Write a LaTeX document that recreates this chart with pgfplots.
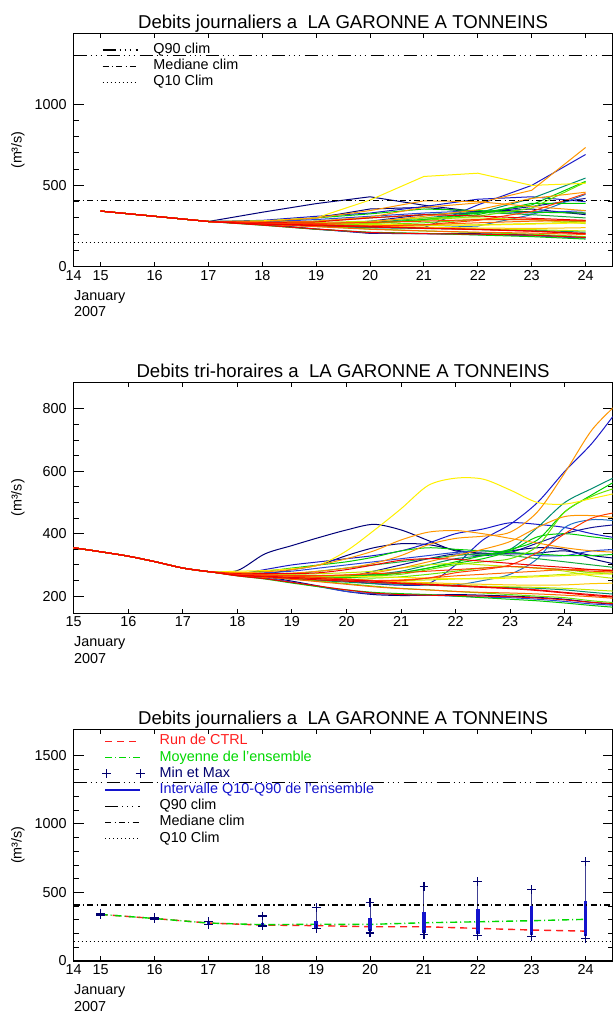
\documentclass[border=0pt]{standalone}
\usepackage{pgfplots}
\pgfplotsset{compat=1.18}
\usepackage{pgfplotstable}
\usepackage{fontspec}
\setmainfont{Liberation Sans}

\definecolor{c1}{RGB}{0,0,120}
\definecolor{c2}{RGB}{20,20,150}
\definecolor{c3}{RGB}{25,25,200}
\definecolor{c4}{RGB}{40,70,215}
\definecolor{c5}{RGB}{30,110,200}
\definecolor{c6}{RGB}{0,140,110}
\definecolor{c7}{RGB}{20,170,60}
\definecolor{c8}{RGB}{0,205,0}
\definecolor{c9}{RGB}{100,230,0}
\definecolor{c10}{RGB}{190,235,0}
\definecolor{c11}{RGB}{255,240,0}
\definecolor{c12}{RGB}{255,200,0}
\definecolor{c13}{RGB}{255,150,0}
\definecolor{c14}{RGB}{255,105,0}
\definecolor{c15}{RGB}{255,60,0}
\definecolor{c16}{RGB}{240,0,0}
\colorlet{col1}{c1}\colorlet{col2}{c1}\colorlet{col3}{c2}\colorlet{col4}{c1}
\colorlet{col5}{c3}\colorlet{col6}{c3}\colorlet{col7}{c5}\colorlet{col8}{c4}
\colorlet{col9}{c4}\colorlet{col10}{c6}\colorlet{col11}{c6}\colorlet{col12}{c7}
\colorlet{col13}{c8}\colorlet{col14}{c8}\colorlet{col15}{c8}\colorlet{col16}{c9}
\colorlet{col17}{c8}\colorlet{col18}{c9}\colorlet{col19}{c9}\colorlet{col20}{c10}
\colorlet{col21}{c10}\colorlet{col22}{c10}\colorlet{col23}{c11}\colorlet{col24}{c11}
\colorlet{col25}{c12}\colorlet{col26}{c13}\colorlet{col27}{c13}\colorlet{col28}{c13}
\colorlet{col29}{c14}\colorlet{col30}{c14}\colorlet{col31}{c15}\colorlet{col32}{c16}
\colorlet{col33}{c16}\colorlet{col34}{c16}\colorlet{col35}{c15}\colorlet{col36}{c16}
\definecolor{ctrlred}{RGB}{255,30,30}
\definecolor{meangreen}{RGB}{0,215,0}
\definecolor{mmnavy}{RGB}{0,0,110}
\definecolor{qblue}{RGB}{20,20,205}

\newcommand\tfont{\fontsize{7.2pt}{8.6pt}\selectfont}
\newcommand\ttlfont{\fontsize{9.3pt}{11pt}\selectfont}

% ensemble, one row per member (tri-hourly curve sampled every 12 h)
\pgfplotstableread{
name t0 t1 t2 t3 t4 t5 t6 t7 t8 t9 t10 t11 t12 t13 t14 t15 t16 t17 t18 t19 t20
x 15 15.5 16 16.5 17 17.5 18 18.5 19 19.5 20 20.5 21 21.5 22 22.5 23 23.5 24 24.5 25
m1 355 342 328 310 290 278 282 335 362 388 412 430 412 378 345 338 335 338 345 330 320
m2 355 342 328 310 290 278 270 262 248 232 215 205 202 203 205 203 200 196 190 180 172
m3 355 342 328 310 290 278 272 268 262 258 262 280 300 320 335 330 340 370 400 420 430
m4 355 342 328 310 290 278 275 272 285 300 330 355 368 365 348 335 345 355 350 320 300
m5 355 342 328 310 290 278 268 262 255 250 248 240 235 240 300 380 430 500 600 690 803
m6 355 342 328 310 290 278 270 285 300 310 320 330 345 370 400 415 435 430 420 400 385
m7 355 342 328 310 290 278 268 265 260 255 250 245 240 238 236 250 270 320 420 445 440
m8 355 342 328 310 290 278 266 258 245 230 215 208 205 203 200 197 195 190 183 175 170
m9 355 342 328 310 290 278 272 275 280 290 300 310 320 330 340 345 340 330 330 345 350
m10 355 342 328 310 290 278 270 270 268 266 265 270 280 300 320 330 350 420 500 545 588
m11 355 342 328 310 290 278 268 262 255 250 245 240 238 235 232 230 228 225 220 212 205
m12 355 342 328 310 290 278 272 270 272 280 290 300 310 320 330 335 330 320 310 300 290
m13 355 342 328 310 290 278 270 268 266 265 265 268 275 290 310 330 350 380 470 525 575
m14 355 342 328 310 290 278 265 255 242 230 220 212 208 205 200 195 190 185 178 170 163
m15 355 342 328 310 290 278 275 280 290 300 310 325 345 355 350 345 340 335 330 330 335
m16 355 342 328 310 290 278 270 268 265 262 260 258 262 270 280 290 295 290 285 275 270
m17 355 342 328 310 290 278 268 265 262 260 260 265 275 290 305 320 345 390 400 390 380
m18 355 342 328 310 290 278 268 262 255 248 240 232 225 220 215 210 205 200 195 185 178
m19 355 342 328 310 290 278 270 268 265 262 262 265 270 285 300 310 320 360 470 520 550
m20 355 342 328 310 290 278 272 270 270 272 275 280 290 300 305 300 295 290 280 265 255
m21 355 342 328 310 290 278 266 262 258 255 252 250 250 252 255 258 262 265 270 275 280
m22 355 342 328 310 290 278 268 266 262 258 255 250 245 240 235 232 230 228 225 220 215
m23 355 342 328 310 290 278 280 282 288 300 345 410 480 555 578 575 540 500 495 513 532
m24 355 342 328 310 290 278 270 268 266 265 264 262 260 258 256 255 258 262 266 270 272
m25 355 342 328 310 290 278 268 265 262 258 255 250 246 243 240 238 236 235 236 240 242
m26 355 342 328 310 290 278 272 272 274 280 290 305 330 365 385 392 405 470 595 733 822
m27 355 342 328 310 290 278 275 278 285 300 320 345 380 405 410 400 385 370 355 345 340
m28 355 342 328 310 290 278 270 268 266 265 268 275 290 310 330 350 375 420 455 458 450
m29 355 342 328 310 290 278 268 264 260 256 252 250 252 258 265 270 275 280 285 285 283
m30 355 342 328 310 290 278 266 260 254 246 238 230 224 220 215 212 210 207 203 198 192
m31 355 342 328 310 290 278 270 268 264 260 255 250 250 258 275 285 300 340 400 450 470
m32 355 342 328 310 290 278 272 272 272 275 285 300 315 320 318 312 305 298 292 285 280
m33 355 342 328 310 290 278 265 256 244 232 220 210 205 203 202 200 198 194 188 180 175
m34 355 342 328 310 290 278 268 264 260 256 252 248 242 238 234 230 225 220 212 205 198
m35 355 342 328 310 290 278 270 268 266 266 268 272 275 280 285 290 295 290 285 280 276
m36 355 342 328 310 290 278 267 262 257 252 248 244 240 236 232 228 224 218 210 202 196
}\rawtab
\pgfplotstabletranspose[colnames from=name]\enstab\rawtab

\pgfplotstableread{
x ctrl mean
15 340 340
16 310 310
17 277 277
18 262 265
19 258 268
20 250 267
21 250 279
22 238 286
23 226 294
24 218 304
}\stattab

\pgfplotstableread{
x y
15 336
15 348
nan nan
16 306
16 316
nan nan
17 268
17 288
nan nan
18 255
18 328
nan nan
19 235
19 388
nan nan
20 205
20 426
nan nan
21 196
21 546
nan nan
22 184
22 578
nan nan
23 176
23 522
nan nan
24 162
24 723
}\mmtab

\pgfplotstableread{
x y
15 339
15 343
nan nan
16 309
16 312
nan nan
17 273
17 282
nan nan
18 258
18 280
nan nan
19 242
19 290
nan nan
20 222
20 313
nan nan
21 205
21 357
nan nan
22 200
22 376
nan nan
23 190
23 400
nan nan
24 182
24 437
}\qtab

\pgfplotsset{
  idl/.style={
    scale only axis, width=269.4pt,
    axis line style={line width=0.6pt},
    tick align=inside, xtick pos=both, ytick pos=both,
    xtick style={/pgfplots/major tick length=2.3pt, line width=0.5pt, black},
    ytick style={/pgfplots/major tick length=5pt, /pgfplots/minor tick length=2.5pt, line width=0.5pt, black},
    tick label style={font=\tfont},
    xticklabel style={yshift=1.8pt},
    /pgf/number format/assume math mode=true,
    /pgf/number format/1000 sep={},
    title style={font=\ttlfont, at={(0.5,1)}, anchor=base, yshift=-3.5pt},
    legend cell align=left,
    legend style={at={(rel axis cs:0,1)}, anchor=north west, xshift=14pt, yshift=-4.6pt,
      draw=none, fill=none, font=\tfont, row sep=1.4pt, inner sep=0pt,
      nodes={inner sep=0pt, text height=5.1pt, text depth=1.6pt},
      /tikz/every odd column/.append style={column sep=7.6pt}},
    legend image code/.code={\draw[##1] (0pt,0pt) -- (17.5pt,0pt);},
  },
  mmlegend/.style={legend image code/.code={\draw[##1] plot[only marks] coordinates {(0.6pt,0pt) (17.4pt,0pt)};}},
  qlegend/.style={legend image code/.code={\draw[##1, line width=0.8pt] (0pt,0pt) -- (17.5pt,0pt);}},
  q90/.style={black, line width=0.6pt, dash pattern=on 6.5pt off 2pt on 0.5pt off 2pt on 0.5pt off 2pt on 0.5pt off 2.5pt},
  med/.style={black, line width=0.6pt, dash pattern=on 3pt off 1.6pt on 0.6pt off 1.6pt},
  q10/.style={black, line width=0.6pt, dash pattern=on 0.5pt off 1.5pt},
}

\begin{document}
\begin{tikzpicture}
\path[use as bounding box] (0pt,0pt) rectangle (306.5pt,-506pt);

% ---------- panel 1 ----------
\begin{axis}[idl, name=p1, at={(36.85pt,-133.35pt)}, anchor=south west, height=116.5pt,
  xmin=14.5, xmax=24.5, ymin=0, ymax=1433,
  xtick={14.5,15,16,17,18,19,20,21,22,23,24},
  xticklabels={14,15,16,17,18,19,20,21,22,23,24},
  ytick={0,500,1000}, minor y tick num=4,
  title={Debits journaliers a~~LA GARONNE A TONNEINS}]
\pgfplotsinvokeforeach{1,...,36}{
  \addplot[col#1, line width=0.5pt, forget plot]
    table[x expr={mod(\coordindex,2)==1 ? \thisrow{x}-0.5 : nan}, y=m#1]{\enstab};
}
\addplot[q90] coordinates {(14.5,1300) (24.5,1300)};
\addlegendentry{Q90 clim}
\addplot[med] coordinates {(14.5,408) (24.5,408)};
\addlegendentry{Mediane clim}
\addplot[q10] coordinates {(14.5,148) (24.5,148)};
\addlegendentry{Q10 Clim}
\end{axis}

% ---------- panel 2 ----------
\begin{axis}[idl, name=p2, at={(36.85pt,-306.65pt)}, anchor=south west, height=115.5pt,
  xmin=15, xmax=24.875, ymin=145, ymax=885,
  xtick={15,16,17,18,19,20,21,22,23,24},
  ytick={200,400,600,800}, minor y tick num=3,
  title={Debits tri-horaires a~~LA GARONNE A TONNEINS}]
\pgfplotsinvokeforeach{1,...,36}{
  \addplot[col#1, line width=0.5pt, smooth, forget plot]
    table[x=x, y=m#1]{\enstab};
}
\end{axis}

% ---------- panel 3 ----------
\begin{axis}[idl, name=p3, at={(36.85pt,-480.5pt)}, anchor=south west, height=115.85pt,
  xmin=14.5, xmax=24.5, ymin=0, ymax=1690,
  xtick={14.5,15,16,17,18,19,20,21,22,23,24},
  xticklabels={14,15,16,17,18,19,20,21,22,23,24},
  ytick={0,500,1000,1500}, minor y tick num=4,
  legend style={yshift=2.1pt},
  title={Debits journaliers a~~LA GARONNE A TONNEINS}]
\addplot[ctrlred, line width=0.7pt, dash pattern=on 3.5pt off 2.5pt] table[x=x, y=ctrl]{\stattab};
\addlegendentry{\textcolor{ctrlred}{Run de CTRL}}
\addplot[meangreen, line width=0.7pt, dash pattern=on 3.5pt off 1.5pt on 0.5pt off 1.5pt] table[x=x, y=mean]{\stattab};
\addlegendentry{\textcolor{meangreen}{Moyenne de l'ensemble}}
\addplot[mmnavy!75, line width=0.45pt, unbounded coords=jump, mark=+,
  mark options={mmnavy, line width=0.6pt, solid}, mark size=2.2pt, mmlegend]
  table[x=x, y=y]{\mmtab};
\addlegendentry{\textcolor{mmnavy}{Min et Max}}
\addplot[qblue, line width=1.7pt, unbounded coords=jump, qlegend]
  table[x=x, y=y]{\qtab};
\addlegendentry{\textcolor{qblue}{Intervalle Q10-Q90 de l'ensemble}}
\addplot[q90] coordinates {(14.5,1300) (24.5,1300)};
\addlegendentry{Q90 clim}
\addplot[med] coordinates {(14.5,408) (24.5,408)};
\addlegendentry{Mediane clim}
\addplot[q10] coordinates {(14.5,145) (24.5,145)};
\addlegendentry{Q10 Clim}
\end{axis}

% ---------- shared text ----------
\foreach \p in {p1,p2,p3}{
  \node[anchor=west, font=\tfont, inner sep=0pt] at ([yshift=-15pt]\p.south west) {January};
  \node[anchor=west, font=\tfont, inner sep=0pt] at ([yshift=-22.6pt]\p.south west) {2007};
}
\node[rotate=90, font=\tfont, inner sep=0pt] at (9pt,-75pt) {(m³/s)};
\node[rotate=90, font=\tfont, inner sep=0pt] at (9pt,-248.9pt) {(m³/s)};
\node[rotate=90, font=\tfont, inner sep=0pt] at (9pt,-422.5pt) {(m³/s)};
\end{tikzpicture}
\end{document}
